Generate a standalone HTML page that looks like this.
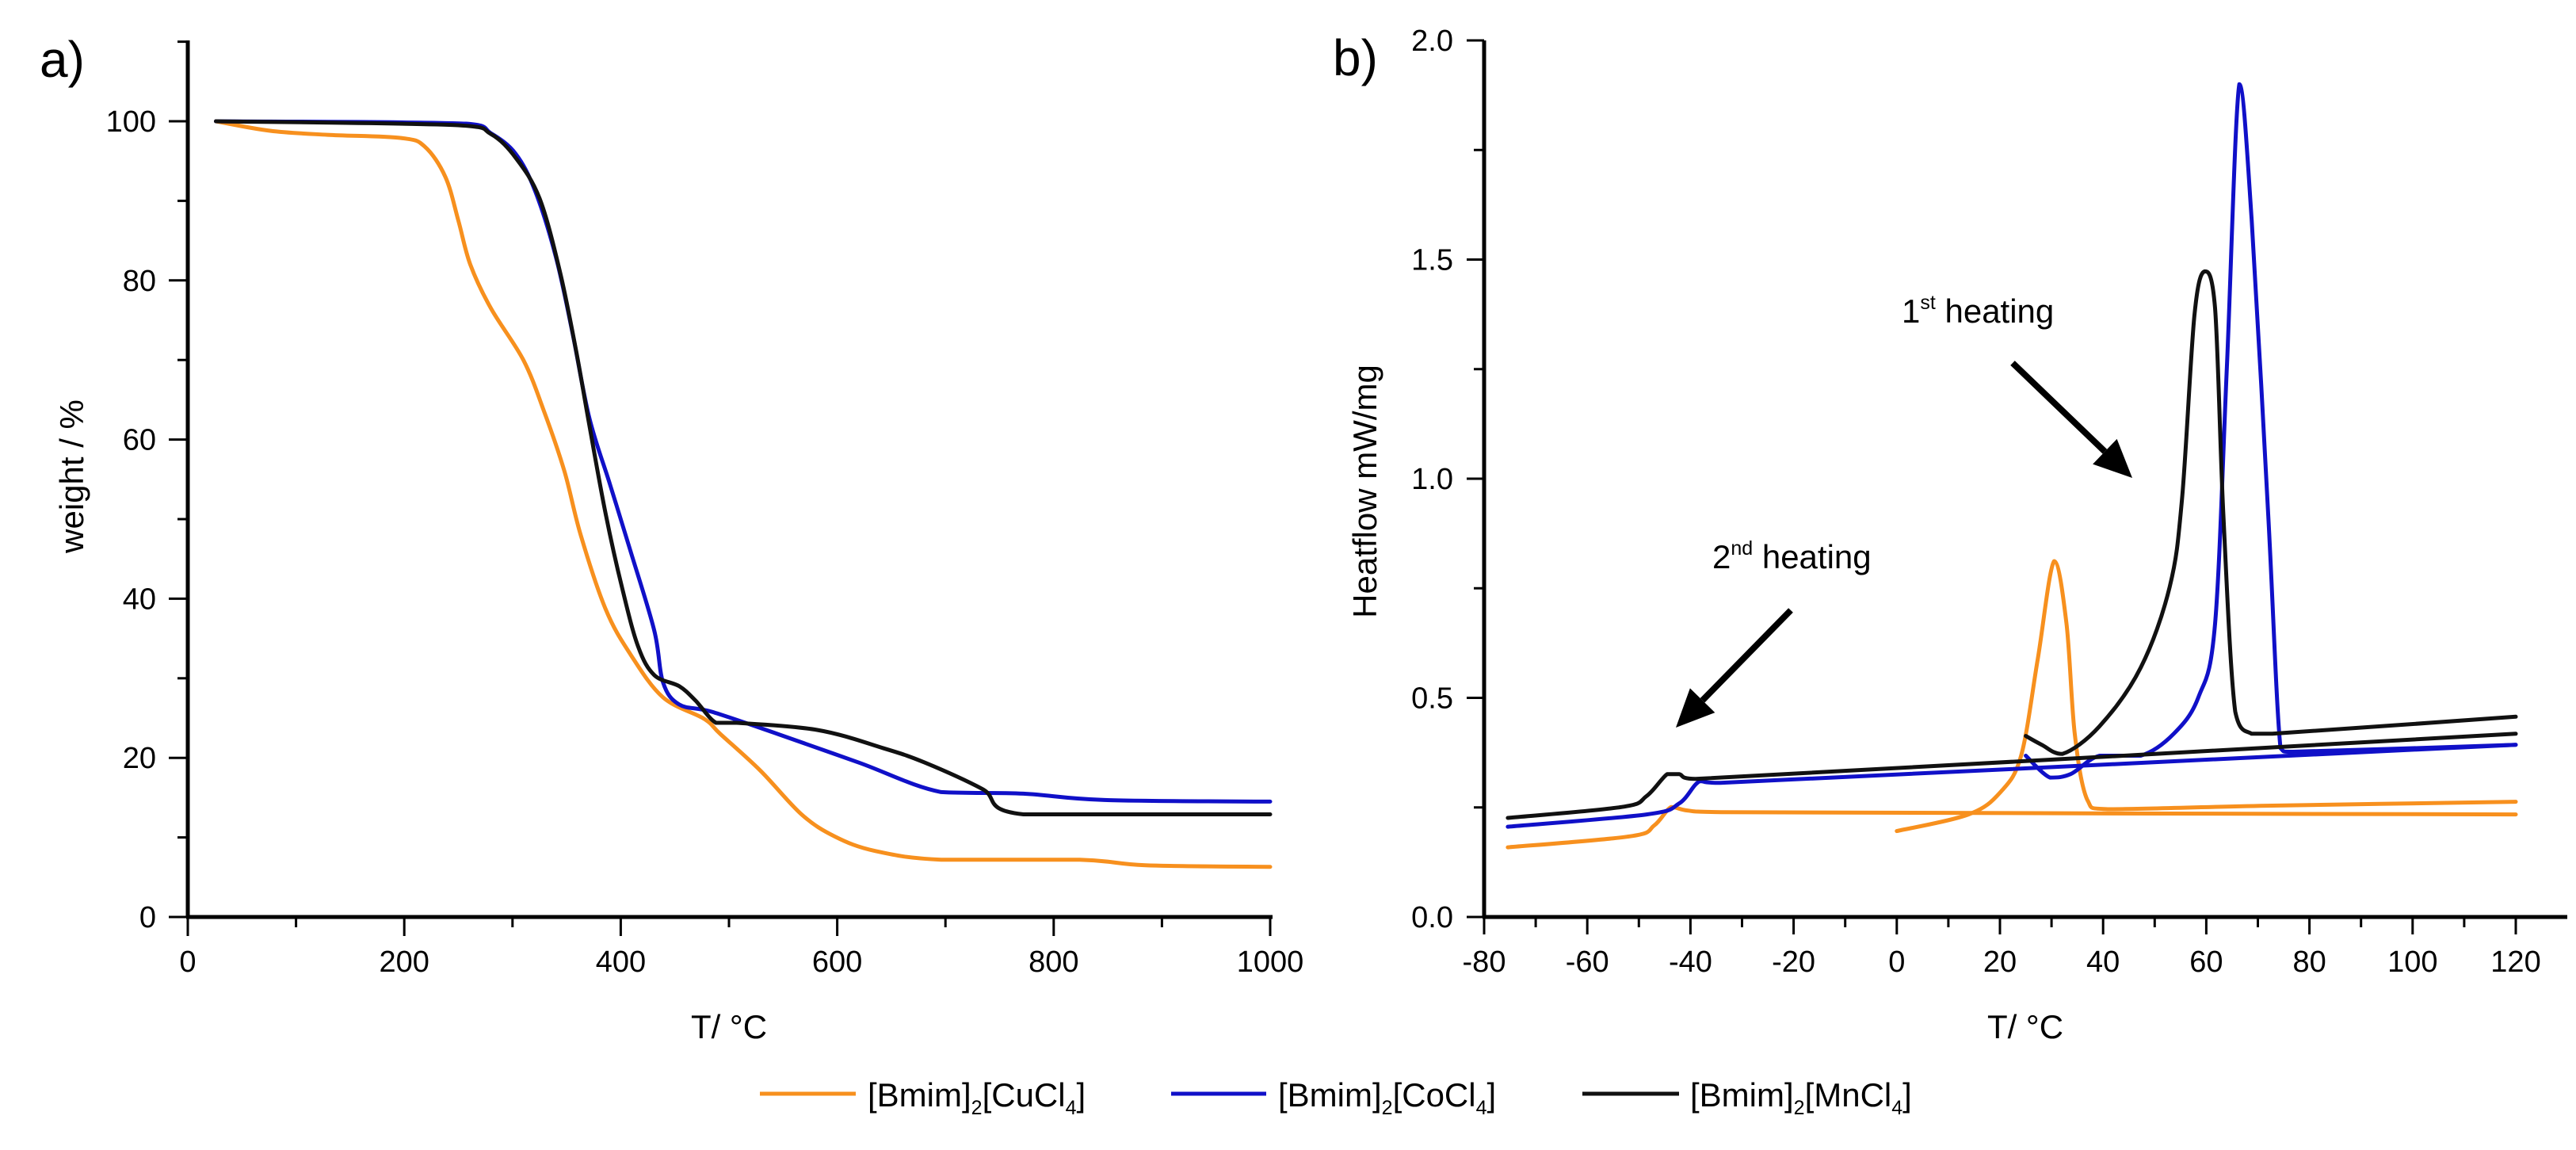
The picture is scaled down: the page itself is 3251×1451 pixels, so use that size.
<!DOCTYPE html>
<html><head><meta charset="utf-8"><style>
html,body{margin:0;padding:0;background:#fff;}
svg{display:block;font-family:"Liberation Sans",Arial,sans-serif;}
</style></head><body>
<svg id="c" width="3251" height="1451" viewBox="0 0 3251 1451" xmlns="http://www.w3.org/2000/svg">
<g id="pa"></g>
<g id="pb"></g>
<g id="lg"></g>
</svg>
<script>
// ---- Panel a data (TGA) ----
const tgaCuT = [26,76,129,197,219,238,250,261,280,310,329,348,363,386,409,439,477,492,529,567,598,635,696,824,885,1000];
const tgaCuW = [100,98.8,98.3,97.9,96.8,93,87.5,82,76.5,70,63.6,56,48,38.7,33,27.6,24.9,23,18.4,12.9,10.1,8.3,7.2,7.2,6.5,6.3];
const tgaCoT = [26,257,280,303,321,340,355,371,390,409,431,439,454,484,545,620,696,772,847,1000];
const tgaCoW = [100,99.7,98.5,95.9,91.2,83,73.7,62.7,54.4,46,36,29.5,26.7,25.8,23,19.4,15.7,15.5,14.7,14.5];
const tgaMnT = [26,250,280,303,325,344,359,371,386,401,416,431,454,469,488,507,582,643,681,734,772,1000];
const tgaMnW = [100,99.5,98.4,95.4,90.3,81,71,61.8,50.7,41.5,34,30.4,29,27.2,24.4,24.4,23.5,21.2,19.4,16.1,12.9,12.9];
const tgaXTicks = [0,200,400,600,800,1000];
const tgaYTicks = [0,20,40,60,80,100];
// ---- Panel b data (DSC) ----
const dscCu2T = [-75.4,-51.7,-47,-43.7,-40.6,-34,120];
const dscCu2H = [0.159,0.184,0.209,0.251,0.243,0.239,0.234];
const dscCu1T = [0,13.9,20.1,24.1,27.3,30.5,32.9,34.5,36.9,40.9,72.8,120];
const dscCu1H = [0.196,0.234,0.285,0.368,0.586,0.812,0.669,0.418,0.268,0.246,0.254,0.263];
const dscCo2T = [-75.4,-48.5,-42.2,-38.2,-34.2,120];
const dscCo2H = [0.206,0.234,0.259,0.31,0.306,0.393];
const dscCo1T = [25,29.7,33.7,39.3,47.3,53.7,58.5,61.7,64,66.4,68.8,72,74.4,76.8,120];
const dscCo1H = [0.368,0.318,0.326,0.368,0.368,0.418,0.502,0.669,1.255,1.9,1.59,0.92,0.385,0.377,0.393];
const dscMn2T = [-75.4,-53.3,-48.5,-44.5,-42.2,-39,120];
const dscMn2H = [0.226,0.251,0.276,0.326,0.326,0.315,0.418];
const dscMn1T = [25,28.1,32.1,39.3,47.3,52.9,55.3,57.7,59.7,61.7,63.3,65.6,68.8,72.8,120];
const dscMn1H = [0.413,0.393,0.372,0.435,0.569,0.753,0.954,1.372,1.473,1.389,0.92,0.469,0.418,0.418,0.457];
const dscXTicks = [-80,-60,-40,-20,0,20,40,60,80,100,120];
const dscYTicks = [0,0.5,1.0,1.5,2.0];

const NS="http://www.w3.org/2000/svg";
function mk(parent,tag,attrs,text){const e=document.createElementNS(NS,tag);for(const k in attrs)e.setAttribute(k,attrs[k]);if(text!==undefined)e.textContent=text;parent.appendChild(e);return e;}
const ORANGE="#f7901e", BLUE="#1010c8", BLACK="#111";
const FS=38;

const axA={x:t=>237+(t-0)*1.366, y:w=>1157-w*10.04};
const axB={x:t=>1873+(t+80)*6.51, y:h=>1157-h*553};

function clamp(v,a,b){const lo=Math.min(a,b),hi=Math.max(a,b);return Math.max(lo,Math.min(hi,v));}
function series(g,ax,xs,ys,color,name){
  const P=xs.map((t,i)=>[ax.x(t),ax.y(ys[i])]);
  let d='M'+P[0][0].toFixed(1)+' '+P[0][1].toFixed(1);
  const k=1/6;
  for(let i=0;i<P.length-1;i++){
    const p0=P[Math.max(0,i-1)],p1=P[i],p2=P[i+1],p3=P[Math.min(P.length-1,i+2)];
    const c1=[clamp(p1[0]+(p2[0]-p0[0])*k,p1[0],p2[0]),clamp(p1[1]+(p2[1]-p0[1])*k,p1[1],p2[1])];
    const c2=[clamp(p2[0]-(p3[0]-p1[0])*k,p1[0],p2[0]),clamp(p2[1]-(p3[1]-p1[1])*k,p1[1],p2[1])];
    d+=' C'+c1[0].toFixed(1)+' '+c1[1].toFixed(1)+' '+c2[0].toFixed(1)+' '+c2[1].toFixed(1)+' '+p2[0].toFixed(1)+' '+p2[1].toFixed(1);
  }
  const p=mk(g,'path',{d:d,fill:'none',stroke:color,'stroke-width':5,'stroke-linejoin':'round','stroke-linecap':'round'});
  
  
}

// ---- Panel a ----
const pa=document.getElementById('pa');
mk(pa,'line',{x1:237,y1:51,x2:237,y2:1157,stroke:'#000','stroke-width':5});
mk(pa,'line',{x1:235,y1:1157,x2:1606,y2:1157,stroke:'#000','stroke-width':5});
for(let t=0;t<=1000;t+=100){const maj=t%200===0;mk(pa,'line',{x1:axA.x(t),y1:1157,x2:axA.x(t),y2:1157+(maj?24:13),stroke:'#000','stroke-width':3});}
for(let w=0;w<=110;w+=10){const maj=w%20===0&&w<=100;mk(pa,'line',{x1:237,y1:axA.y(w),x2:237-(maj?24:13),y2:axA.y(w),stroke:'#000','stroke-width':3});}
tgaXTicks.forEach(t=>{const e=mk(pa,'text',{x:axA.x(t),y:1226,'font-size':FS,'text-anchor':'middle'},String(t));});
tgaYTicks.forEach(w=>{const e=mk(pa,'text',{x:197,y:axA.y(w)+13,'font-size':FS,'text-anchor':'end'},String(w));});
let e;
e=mk(pa,'text',{x:920,y:1310,'font-size':42,'text-anchor':'middle'},'T/ °C');
e=mk(pa,'text',{x:0,y:0,'font-size':42,'text-anchor':'middle',transform:'translate(105,601) rotate(-90)'},'weight / %');
e=mk(pa,'text',{x:50,y:97,'font-size':64},'a)');
series(pa,axA,tgaCuT,tgaCuW,ORANGE,'tga-cucl4-line');
series(pa,axA,tgaCoT,tgaCoW,BLUE,'tga-cocl4-line');
series(pa,axA,tgaMnT,tgaMnW,BLACK,'tga-mncl4-line');

// ---- Panel b ----
const pb=document.getElementById('pb');
mk(pb,'line',{x1:1873,y1:51,x2:1873,y2:1157,stroke:'#000','stroke-width':5});
mk(pb,'line',{x1:1871,y1:1157,x2:3240,y2:1157,stroke:'#000','stroke-width':5});
for(let t=-80;t<=120;t+=10){const maj=t%20===0;mk(pb,'line',{x1:axB.x(t),y1:1157,x2:axB.x(t),y2:1157+(maj?22:13),stroke:'#000','stroke-width':3});}
for(let i=0;i<=8;i++){const h=i*0.25;const maj=i%2===0;mk(pb,'line',{x1:1873,y1:axB.y(h),x2:1873-(maj?22:13),y2:axB.y(h),stroke:'#000','stroke-width':3});}
dscXTicks.forEach(t=>{const e=mk(pb,'text',{x:axB.x(t),y:1226,'font-size':FS,'text-anchor':'middle'},String(t));});
dscYTicks.forEach(h=>{const e=mk(pb,'text',{x:1834,y:axB.y(h)+13,'font-size':FS,'text-anchor':'end'},h.toFixed(1));});
e=mk(pb,'text',{x:2556,y:1310,'font-size':42,'text-anchor':'middle'},'T/ °C');
e=mk(pb,'text',{x:0,y:0,'font-size':42,'text-anchor':'middle',transform:'translate(1737,620) rotate(-90)'},'Heatflow mW/mg');
e=mk(pb,'text',{x:1682,y:95,'font-size':64},'b)');
series(pb,axB,dscCu2T,dscCu2H,ORANGE,'dsc-cucl4-2nd-heating');
series(pb,axB,dscCu1T,dscCu1H,ORANGE,'dsc-cucl4-1st-heating');
series(pb,axB,dscCo2T,dscCo2H,BLUE,'dsc-cocl4-2nd-heating');
series(pb,axB,dscCo1T,dscCo1H,BLUE,'dsc-cocl4-1st-heating');
series(pb,axB,dscMn2T,dscMn2H,BLACK,'dsc-mncl4-2nd-heating');
series(pb,axB,dscMn1T,dscMn1H,BLACK,'dsc-mncl4-1st-heating');
function anno(g,x,y,sup,name){const t=mk(g,'text',{x:x,y:y,'font-size':42});
 mk(t,'tspan',{},sup[0]);mk(t,'tspan',{'font-size':25,dy:-17},sup[1]);mk(t,'tspan',{dy:17},' heating');}
anno(pb,2400,407,['1','st'],'annotation-1st-heating');
anno(pb,2161,717,['2','nd'],'annotation-2nd-heating');
function arrow(g,x1,y1,x2,y2,name){const ang=Math.atan2(y2-y1,x2-x1);const L=48,W=22;
 const bx=x2-L*Math.cos(ang),by=y2-L*Math.sin(ang);
 const gg=mk(g,'g',{});
 mk(gg,'line',{x1:x1,y1:y1,x2:bx,y2:by,stroke:'#000','stroke-width':8});
 const px=-Math.sin(ang)*W,py=Math.cos(ang)*W;
 mk(gg,'polygon',{points:`${x2},${y2} ${bx+px},${by+py} ${bx-px},${by-py}`,fill:'#000'});}
arrow(pb,2540,458,2691,603,'arrow-1st-heating');
arrow(pb,2260,770,2115,918,'arrow-2nd-heating');

// ---- Legend ----
const lg=document.getElementById('lg');
function leg(x1,x2,tx,color,metal,name){const g=mk(lg,'g',{});
 mk(g,'line',{x1:x1,y1:1380,x2:x2,y2:1380,stroke:color,'stroke-width':5});
 const t=mk(g,'text',{x:tx,y:1396,'font-size':42});
 mk(t,'tspan',{},'[Bmim]');mk(t,'tspan',{'font-size':25,dy:10},'2');mk(t,'tspan',{dy:-10},'['+metal+'Cl');mk(t,'tspan',{'font-size':25,dy:10},'4');mk(t,'tspan',{dy:-10},']');}
leg(959,1080,1095,ORANGE,'Cu','legend-entry-cucl4');
leg(1478,1598,1613,BLUE,'Co','legend-entry-cocl4');
leg(1997,2119,2133,BLACK,'Mn','legend-entry-mncl4');
</script>
</body></html>
